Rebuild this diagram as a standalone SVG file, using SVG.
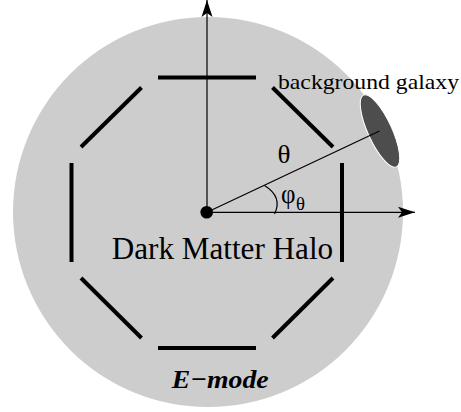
<svg xmlns="http://www.w3.org/2000/svg" width="461" height="412" viewBox="0 0 461 412">
<defs>
<style>
.seg{stroke:#000;stroke-width:4;fill:none}
.thin{stroke:#000;stroke-width:1.2;fill:none}
.serif{font-family:"Liberation Serif","Times New Roman",serif;fill:#000}
</style>
<marker id="arr" markerUnits="userSpaceOnUse" markerWidth="20" markerHeight="14" viewBox="0 -7 20 14" refX="17" refY="0" orient="auto">
<path d="M17,0 L0,-5.5 L4,0 L0,5.5 Z" fill="#000"/>
</marker>
</defs>
<rect width="461" height="412" fill="#fff"/>
<g id="halo">
<circle cx="208" cy="212" r="195" fill="#cdcdcd"/>
</g>
<g id="octagon">
<line class="seg" x1="158" y1="77.5" x2="256" y2="77.5"/>
<line class="seg" x1="158" y1="348" x2="256" y2="348"/>
<line class="seg" x1="71.5" y1="163" x2="71.5" y2="262"/>
<line class="seg" x1="342" y1="163" x2="342" y2="262"/>
<line class="seg" x1="141.5" y1="87.5" x2="81" y2="147"/>
<line class="seg" x1="272.5" y1="87.5" x2="333" y2="147"/>
<line class="seg" x1="81" y1="278" x2="141.5" y2="338"/>
<line class="seg" x1="333" y1="278" x2="272.5" y2="338"/>
</g>
<g id="galaxy">
<ellipse cx="380" cy="131" rx="12" ry="39.5" transform="rotate(-24.6 380 131)" fill="#4d4d4d" stroke="#fff" stroke-width="1"/>
</g>
<g id="connectors">
<line class="thin" x1="207" y1="212.3" x2="207" y2="0" marker-end="url(#arr)"/>
<line class="thin" x1="207" y1="212.3" x2="415" y2="212.3" marker-end="url(#arr)"/>
<line class="thin" x1="207" y1="212.3" x2="379.5" y2="131"/>
<path class="thin" d="M264.5,185.5 Q283,197 274.5,214"/>
</g>
<g id="center">
<circle cx="206.7" cy="212.3" r="6.3" fill="#000"/>
</g>
<g id="labels">
<text class="serif" x="278" y="89" font-size="22" textLength="181" lengthAdjust="spacingAndGlyphs">background galaxy</text>
<text class="serif" x="277.5" y="162.5" font-size="26" textLength="13" lengthAdjust="spacingAndGlyphs">θ</text>
<text class="serif" x="281" y="202.5" font-size="27" textLength="14.5" lengthAdjust="spacingAndGlyphs">φ</text>
<text class="serif" x="296" y="209.5" font-size="18" textLength="9" lengthAdjust="spacingAndGlyphs">θ</text>
<text class="serif" x="111.7" y="259.3" font-size="31" textLength="221.5" lengthAdjust="spacingAndGlyphs">Dark Matter Halo</text>
<text class="serif" x="171.7" y="388" font-size="26" font-weight="bold" font-style="italic" textLength="97" lengthAdjust="spacingAndGlyphs">E−mode</text>
</g>
</svg>
